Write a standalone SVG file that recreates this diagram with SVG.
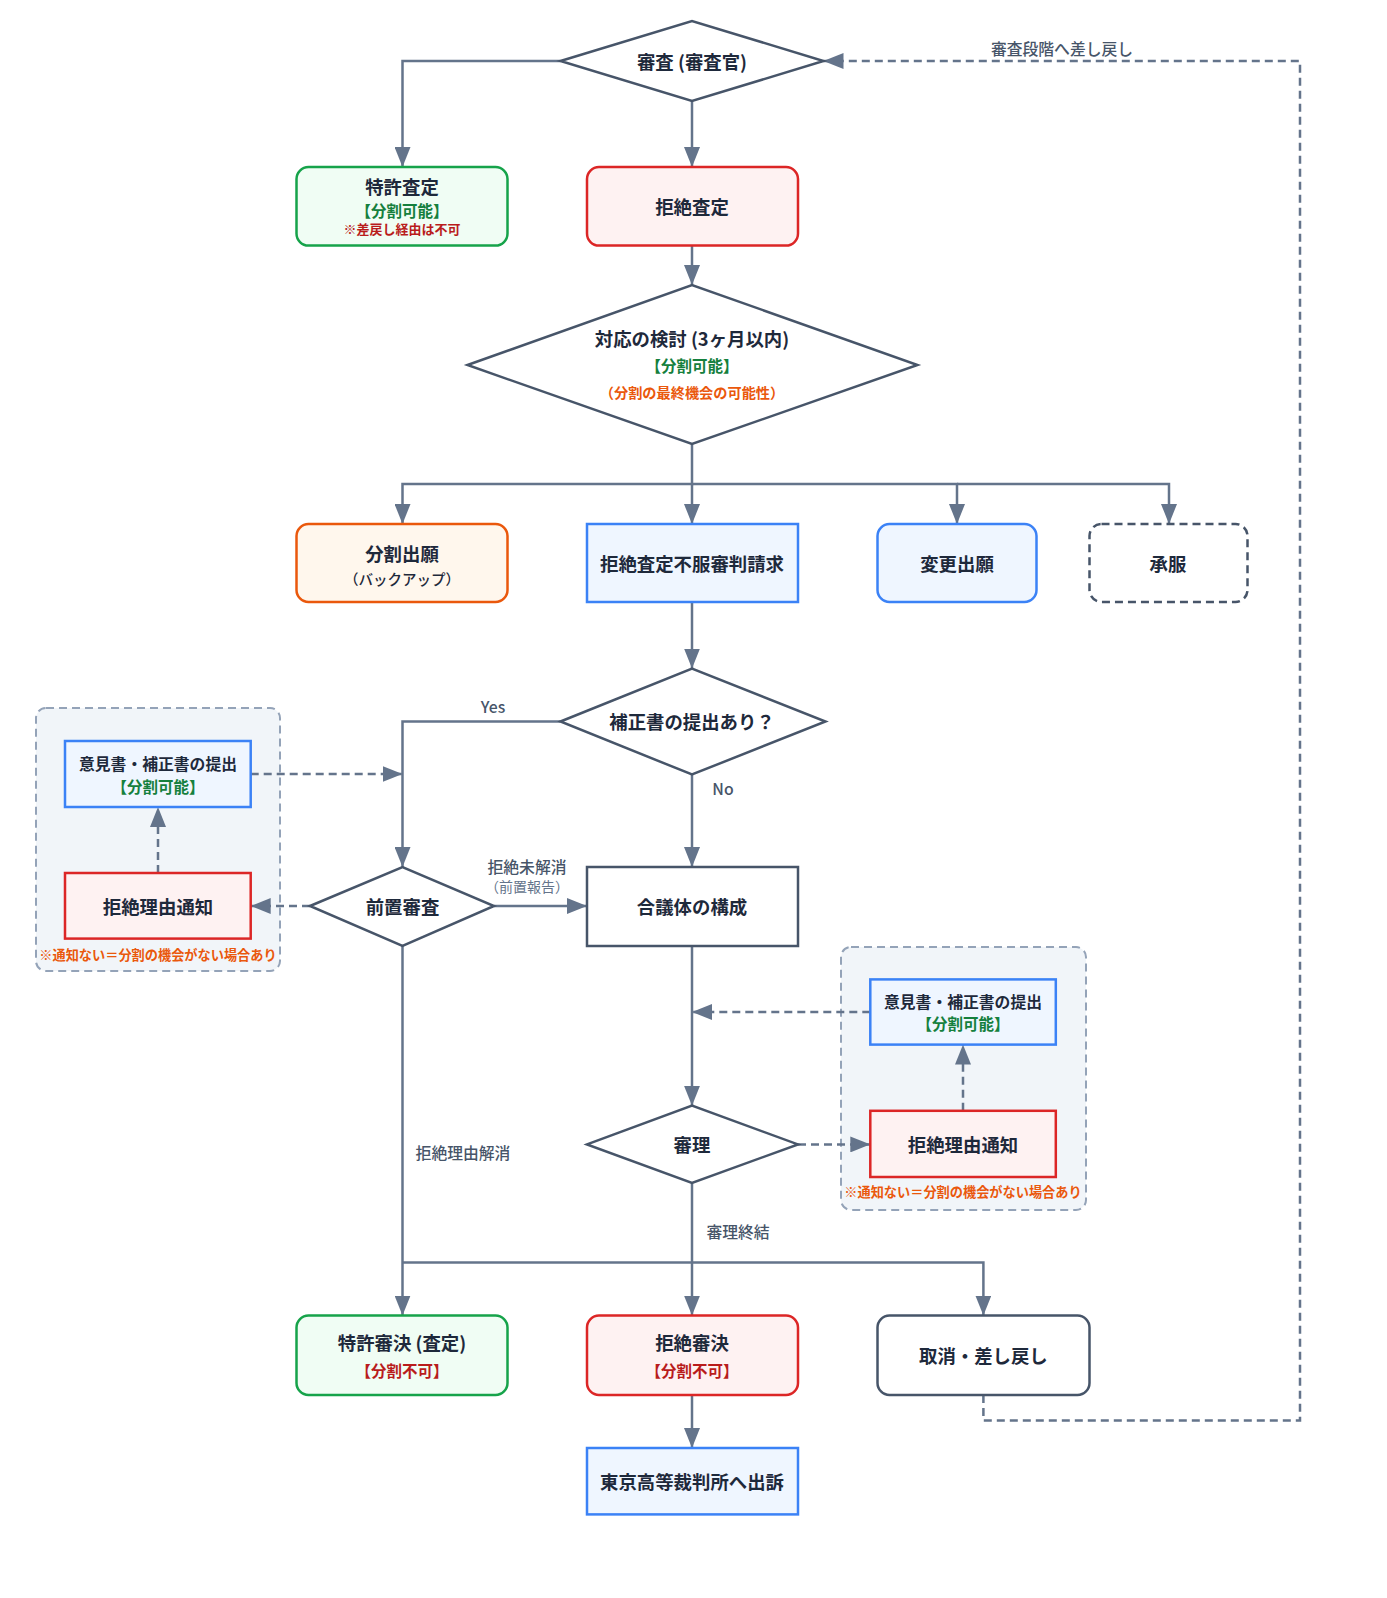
<svg xmlns="http://www.w3.org/2000/svg" width="1387" height="1598" viewBox="0 0 1387 1598">
<defs>
<marker id="ah" markerUnits="userSpaceOnUse" markerWidth="20" markerHeight="16" refX="20" refY="8" orient="auto">
<path d="M0,0 L20,8 L0,16 z" fill="#64748b"/>
</marker>
<style>
text{font-family:"Noto Sans CJK JP","Noto Sans",sans-serif;text-anchor:middle;dominant-baseline:central}
.t{font-size:18.4px;font-weight:700;fill:#1e293b}
.tm{font-size:15.8px;font-weight:700;fill:#1e293b}
.g{font-size:15.5px;font-weight:700;fill:#15803d}
.r{font-size:15.5px;font-weight:700;fill:#b91c1c}
.rs{font-size:13px;font-weight:700;fill:#b91c1c}
.o{font-size:14.2px;font-weight:700;fill:#ea580c}
.on{font-size:13.2px;font-weight:700;fill:#ea580c}
.s{font-size:14.5px;font-weight:500;fill:#1e293b}
.lb{font-size:15.8px;font-weight:500;fill:#475569}
.lbs{font-size:14px;font-weight:400;fill:#64748b}
.c{fill:none;stroke:#64748b;stroke-width:2.5}
.d{stroke-dasharray:8 5}
.a{marker-end:url(#ah)}
.grp{fill:#f1f5f9;stroke:#94a3b8;stroke-width:2;stroke-dasharray:8 5}
.green{fill:#f0fdf4;stroke:#16a34a;stroke-width:2.5}
.red{fill:#fef2f2;stroke:#dc2626;stroke-width:2.5}
.orange{fill:#fff7ed;stroke:#ea580c;stroke-width:2.5}
.blue{fill:#eff6ff;stroke:#3b82f6;stroke-width:2.5}
.gray{fill:#ffffff;stroke:#475569;stroke-width:2.5}
.dec{fill:#ffffff;stroke:#475569;stroke-width:2.5}
</style>
</defs>
<rect width="1387" height="1598" fill="#ffffff"/>

<g id="group-left"><rect class="grp" x="36" y="708" width="244" height="263" rx="10"/></g>
<g id="group-right"><rect class="grp" x="841" y="947" width="245" height="263" rx="10"/></g>

<g id="connectors">
<path class="c a" d="M560.5,61 H402.5 V167"/>
<path class="c a" d="M692,101 V167"/>
<path class="c a" d="M692,245.6 V285"/>
<path class="c a" d="M692,444 V484 H402.5 V524"/>
<path class="c a" d="M692,484 V524"/>
<path class="c a" d="M692,484 H957 V524"/>
<path class="c a" d="M957,484 H1169 V524"/>
<path class="c a" d="M692,602 V668.5"/>
<path class="c a" d="M560.5,721.5 H402.5 V867"/>
<path class="c a" d="M692,774.5 V867"/>
<path class="c a" d="M494,906 H587"/>
<path class="c a" d="M402.5,946 V1315.6"/>
<path class="c a" d="M692,946 V1105.7"/>
<path class="c a" d="M692,1183 V1315.6"/>
<path class="c" d="M692,1262.6 H402.5"/>
<path class="c a" d="M692,1262.6 H983.4 V1315.6"/>
<path class="c a" d="M692,1395 V1448"/>
<path class="c d a" d="M983.4,1395 V1420.6 H1300 V61 H823.5"/>
<path class="c d a" d="M250.7,774 H402.5"/>
<path class="c d a" d="M310,906 H250.7"/>
<path class="c d a" d="M158,873 V807"/>
<path class="c d a" d="M870.3,1012 H692"/>
<path class="c d a" d="M798,1144.4 H870.3"/>
<path class="c d a" d="M963,1110.8 V1044.6"/>
<text class="lb" x="1062" y="48">審査段階へ差し戻し</text>
<text class="lb" x="493" y="706">Yes</text>
<text class="lb" x="723" y="788">No</text>
<text class="lb" x="527" y="866">拒絶未解消</text>
<text class="lbs" x="527" y="886">（前置報告）</text>
<text class="lb" x="463" y="1152">拒絶理由解消</text>
<text class="lb" x="738" y="1231">審理終結</text>
</g>

<g id="n-shinsa"><polygon class="dec" points="560.5,61 692,21 823.5,61 692,101"/><text class="t" x="692" y="61">審査 (審査官)</text></g>
<g id="n-tokkyo-satei"><rect class="green" x="296.5" y="167" width="211" height="78.6" rx="12"/><text class="t" x="402" y="186">特許査定</text><text class="g" x="402" y="210">【分割可能】</text><text class="rs" x="402" y="228.5">※差戻し経由は不可</text></g>
<g id="n-kyozetsu-satei"><rect class="red" x="587" y="167" width="211" height="78.6" rx="12"/><text class="t" x="692" y="206">拒絶査定</text></g>
<g id="n-taiou"><polygon class="dec" points="467.5,365 692,285 917.5,365 692,444"/><text class="t" x="692" y="338">対応の検討 (3ヶ月以内)</text><text class="g" x="692" y="365">【分割可能】</text><text class="o" x="692" y="392">（分割の最終機会の可能性）</text></g>
<g id="n-bunkatsu"><rect class="orange" x="296.5" y="524" width="211" height="78" rx="12"/><text class="t" x="402" y="553">分割出願</text><text class="s" x="402" y="578">（バックアップ）</text></g>
<g id="n-fufuku"><rect class="blue" x="587" y="524" width="211" height="78"/><text class="t" x="692" y="563">拒絶査定不服審判請求</text></g>
<g id="n-henkou"><rect class="blue" x="877.5" y="524" width="159" height="78" rx="12"/><text class="t" x="957" y="563">変更出願</text></g>
<g id="n-shoufuku"><rect class="gray d" x="1089.5" y="524" width="158" height="78" rx="12"/><text class="t" x="1168" y="563">承服</text></g>
<g id="n-hosei-q"><polygon class="dec" points="560.5,721.5 692,668.5 825.5,721.5 692,774.5"/><text class="t" x="692" y="721">補正書の提出あり？</text></g>
<g id="n-zenchi"><polygon class="dec" points="310,906 402.5,867 494,906 402.5,946"/><text class="t" x="402.5" y="906">前置審査</text></g>
<g id="n-gougi"><rect class="gray" x="587" y="867" width="211" height="79"/><text class="t" x="692" y="906">合議体の構成</text></g>
<g id="n-iken-left"><rect class="blue" x="65" y="741" width="185.7" height="66"/><text class="tm" x="158" y="763">意見書・補正書の提出</text><text class="g" x="158" y="786">【分割可能】</text></g>
<g id="n-riyu-left"><rect class="red" x="65" y="873" width="185.7" height="65.6"/><text class="t" x="158" y="906">拒絶理由通知</text><text class="on" x="158" y="954">※通知ない＝分割の機会がない場合あり</text></g>
<g id="n-shinri"><polygon class="dec" points="587,1144.4 692,1105.7 798,1144.4 692,1183"/><text class="t" x="692" y="1144">審理</text></g>
<g id="n-iken-right"><rect class="blue" x="870.3" y="979.4" width="185.5" height="65.2"/><text class="tm" x="963" y="1001">意見書・補正書の提出</text><text class="g" x="963" y="1023">【分割可能】</text></g>
<g id="n-riyu-right"><rect class="red" x="870.3" y="1110.8" width="185.5" height="66.2"/><text class="t" x="963" y="1144">拒絶理由通知</text><text class="on" x="963" y="1191">※通知ない＝分割の機会がない場合あり</text></g>
<g id="n-tokkyo-shinketsu"><rect class="green" x="296.5" y="1315.6" width="211" height="79.4" rx="12"/><text class="t" x="402" y="1342">特許審決 (査定)</text><text class="r" x="402" y="1370">【分割不可】</text></g>
<g id="n-kyozetsu-shinketsu"><rect class="red" x="587" y="1315.6" width="211" height="79.4" rx="12"/><text class="t" x="692" y="1342">拒絶審決</text><text class="r" x="692" y="1370">【分割不可】</text></g>
<g id="n-torikeshi"><rect class="gray" x="877.5" y="1315.6" width="212" height="79.4" rx="12"/><text class="t" x="983.4" y="1355">取消・差し戻し</text></g>
<g id="n-kousai"><rect class="blue" x="587" y="1448" width="211" height="66.4"/><text class="t" x="692" y="1481">東京高等裁判所へ出訴</text></g>
</svg>
